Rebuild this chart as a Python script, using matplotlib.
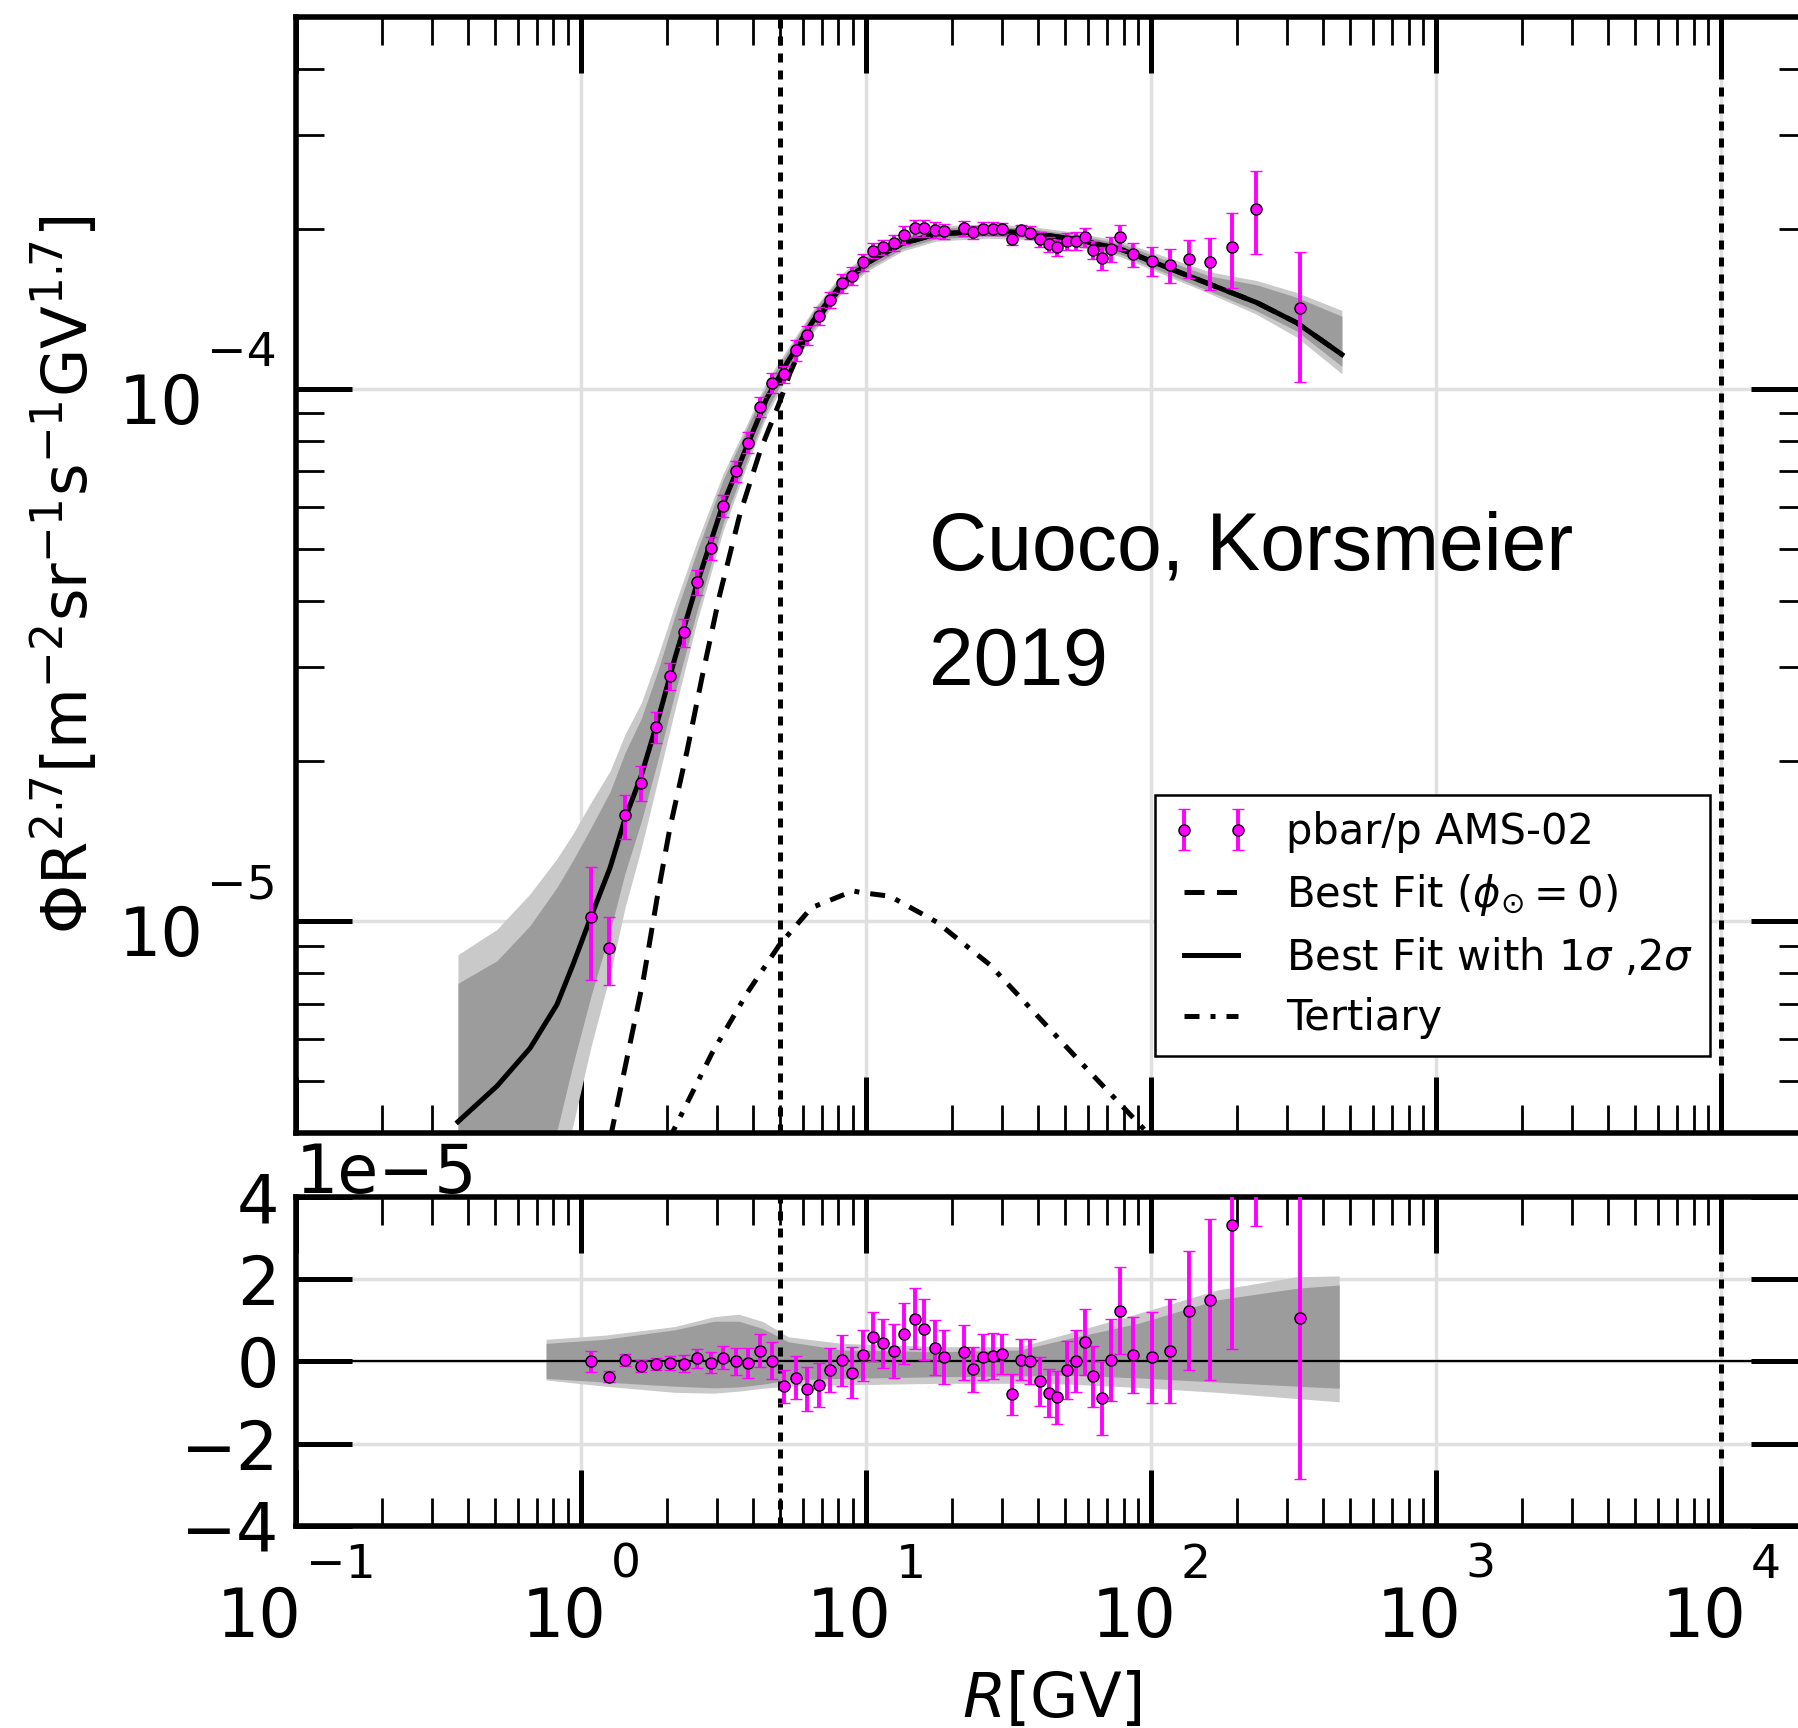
import matplotlib
matplotlib.use('Agg')
import matplotlib.pyplot as plt
import numpy as np
from matplotlib.ticker import LogLocator, NullFormatter, NullLocator, FixedLocator
from matplotlib.transforms import blended_transform_factory, offset_copy

# AMS-02 data points (rigidity in GV, flux*R^2.7, errors)
R_data = [1.08, 1.25, 1.43, 1.62, 1.83, 2.05, 2.29, 2.55, 2.85, 3.14, 3.49, 3.85,
          4.25, 4.68, 5.16, 5.67, 6.21, 6.81, 7.48, 8.24, 8.93, 9.75, 10.6, 11.5,
          12.5, 13.6, 14.8, 16.0, 17.4, 18.8, 22.0, 23.8, 25.8, 27.8, 30.1, 32.4,
          35.0, 37.6, 40.6, 43.8, 46.8, 50.7, 54.5, 58.5, 62.7, 67.4, 72.5, 78.0,
          86.7, 100.5, 116.6, 135.8, 160.3, 191.9, 232.8, 332.7]
flux_1e4 = [0.102, 0.089, 0.158, 0.182, 0.232, 0.289, 0.349, 0.434, 0.503, 0.604, 0.701, 0.793,
            0.925, 1.026, 1.066, 1.184, 1.263, 1.372, 1.47, 1.58, 1.63, 1.73, 1.82, 1.845,
            1.88, 1.95, 2.007, 2.007, 1.99, 1.977, 2.007, 1.972, 2.0, 2.0, 2.0, 1.91,
            1.986, 1.967, 1.91, 1.87, 1.845, 1.897, 1.897, 1.93, 1.827, 1.76, 1.83, 1.93,
            1.79, 1.74, 1.71, 1.758, 1.73, 1.846, 2.18, 1.42]
err_1e5 = [0.245, 0.13, 0.15, 0.135, 0.155, 0.17, 0.21, 0.23, 0.25, 0.28, 0.32, 0.36,
           0.40, 0.45, 0.40, 0.53, 0.53, 0.53, 0.53, 0.62, 0.62, 0.62, 0.60, 0.60,
           0.66, 0.74, 0.74, 0.74, 0.67, 0.66, 0.66, 0.55, 0.56, 0.56, 0.49, 0.49,
           0.50, 0.55, 0.60, 0.58, 0.64, 0.70, 0.75, 0.81, 0.74, 0.90, 1.0, 1.06,
           0.92, 1.1, 1.26, 1.45, 1.96, 3.0, 3.9, 3.9]
resid_1e5 = [0.0, -0.37, 0.04, -0.11, -0.06, -0.03, -0.05, 0.08, -0.03, 0.09, 0.0, -0.03,
             0.26, 0.02, -0.6, -0.39, -0.67, -0.57, -0.21, 0.03, -0.27, 0.15, 0.6, 0.44,
             0.26, 0.68, 1.04, 0.78, 0.33, 0.11, 0.22, -0.19, 0.11, 0.13, 0.19, -0.8,
             0.04, 0.0, -0.48, -0.77, -0.87, -0.20, 0.01, 0.47, -0.36, -0.89, 0.04, 1.24,
             0.16, 0.10, 0.26, 1.24, 1.5, 3.31, 7.2, 1.05]

# best fit model and its 1/2 sigma bands (relative, in %)
R_model = [0.37, 0.507, 0.662, 0.824, 0.938, 1.084, 1.264, 1.427, 1.625, 1.849, 2.138, 2.55,
           3.15, 3.82, 4.49, 5.28, 6.52, 8.2, 10.08, 13.37, 17.6, 26.8, 37.0, 53.7,
           77.8, 135.8, 161, 235, 324, 467]
model_1e4 = [0.042, 0.049, 0.0577, 0.0698, 0.083, 0.102, 0.126, 0.156, 0.1875, 0.236, 0.313, 0.430,
             0.608, 0.781, 0.962, 1.119, 1.343, 1.575, 1.725, 1.875, 1.955, 1.98, 1.965, 1.913,
             1.833, 1.63, 1.573, 1.453, 1.332, 1.161]
s2_hi = [106, 97, 95, 88, 76, 64, 52, 44, 37, 32, 26, 20, 14, 10, 8, 6, 5, 4.5, 4, 3.8, 3.5,
         3.2, 3, 3, 3.5, 5, 5.5, 10, 14, 21]
s1_hi = [82, 72, 70, 66, 57, 47, 39, 33, 28, 24, 20, 15, 11, 8, 6, 4.5, 4, 3.5, 3, 2.8, 2.5,
         2.2, 2, 2, 2.5, 3.3, 3.6, 8, 11.6, 18]
s1_lo = [-55, -50, -45, -42, -35, -29, -24, -21, -18, -16, -14, -11, -8, -6, -5, -4, -3.5, -3,
         -2.5, -2.2, -2, -2, -2, -2, -2.2, -2.8, -3, -3.5, -3.5, -5]
s2_lo = [-65, -62, -58, -56, -50, -43, -37, -32, -27, -23, -20, -15, -11, -8, -7, -6, -5, -4,
         -3.5, -3.2, -3, -3, -3, -3, -3.2, -3.8, -4, -5, -6, -8]

# best fit without solar modulation (low-R part; above 10 GV it sits under the best fit)
R_nomod = [1.27, 1.285, 1.65, 1.848, 2.05, 2.355, 2.66, 3.07, 3.61, 4.25, 4.99, 5.41, 6.01,
           6.8, 8.2]
nomod_1e4 = [0.039, 0.0406, 0.0771, 0.1104, 0.1496, 0.209, 0.288, 0.412, 0.582, 0.765, 0.949,
             1.072, 1.216, 1.36, 1.56]

# tertiary contribution
R_tert = [2.03, 2.87, 3.82, 4.96, 6.43, 9.0, 9.63, 12.14, 17.66, 27.2, 38.5, 59.3, 91.5, 108]
tert_1e5 = [0.388, 0.563, 0.732, 0.902, 1.06, 1.14, 1.132, 1.114, 0.997, 0.828, 0.678, 0.529,
            0.414, 0.376]

# residual panel bands (absolute, 1e-5)
R_rband = [0.754, 1.21, 2.13, 2.93, 3.58, 4.35, 5.33, 8.24, 18.3, 34.7, 51.5, 90.3, 171, 324, 457]
rb2_hi = [0.54, 0.64, 0.85, 1.09, 1.15, 0.97, 0.60, 0.44, 0.36, 0.36, 0.69, 1.17, 1.74, 2.06, 2.08]
rb1_hi = [0.44, 0.54, 0.77, 0.98, 0.98, 0.80, 0.48, 0.28, 0.24, 0.28, 0.56, 0.93, 1.50, 1.78, 1.86]
rb1_lo = [-0.41, -0.50, -0.60, -0.64, -0.62, -0.55, -0.45, -0.41, -0.37, -0.35, -0.33, -0.40, -0.50, -0.60, -0.65]
rb2_lo = [-0.45, -0.60, -0.75, -0.77, -0.72, -0.65, -0.60, -0.57, -0.53, -0.53, -0.55, -0.63, -0.75, -0.90, -0.98]

vlines_R = [5.0, 1.0e4]

plt.rcParams['font.family'] = ['DejaVu Sans']
plt.rcParams['mathtext.fontset'] = 'dejavusans'
plt.rcParams['axes.linewidth'] = 4

LIGHT = '#c9c9c9'
DARK = '#9c9c9c'
GRID = '#e0e0e0'
MAG = '#ff00ff'
dots = (0, (1.8, 1.6))
MINUS = '\u2212'

fig = plt.figure(figsize=(17.98, 17.28), dpi=100)
ax = fig.add_axes([0.16463, 0.34433, 0.84038, 0.64583])
axr = fig.add_axes([0.16463, 0.11690, 0.84038, 0.19039])

R_model = np.array(R_model)
model = np.array(model_1e4) * 1e-4
ax.fill_between(R_model, model * (1 + np.array(s2_lo) / 100), model * (1 + np.array(s2_hi) / 100),
                color=LIGHT, lw=0, zorder=1)
ax.fill_between(R_model, model * (1 + np.array(s1_lo) / 100), model * (1 + np.array(s1_hi) / 100),
                color=DARK, lw=0, zorder=2)

hi = R_model >= 10
R_nm = np.concatenate([R_nomod, R_model[hi]])
nm = np.concatenate([np.array(nomod_1e4) * 1e-4, model[hi]])
l_nomod, = ax.plot(R_nm, nm, color='k', lw=3.6, ls=(0, (4, 2.5)), zorder=3)
l_fit, = ax.plot(R_model, model, color='k', lw=3.6, zorder=4)
l_tert, = ax.plot(R_tert, np.array(tert_1e5) * 1e-5, color='k', lw=3.6,
                  ls=(0, (3, 2.2, 1, 2.2)), zorder=3)
for a in (ax, axr):
    for xv in vlines_R:
        a.axvline(xv, color='k', lw=3.6, ls=dots, zorder=3)

eb_kw = dict(fmt='o', color=MAG, mfc=MAG, mec='k', mew=1.0, ms=8, elinewidth=2.8,
             capsize=4.5, capthick=1.6, zorder=5)
h_data = ax.errorbar(R_data, np.array(flux_1e4) * 1e-4, yerr=np.array(err_1e5) * 1e-5, **eb_kw)

# residual panel
axr.fill_between(R_rband, np.array(rb2_lo) * 1e-5, np.array(rb2_hi) * 1e-5, color=LIGHT, lw=0, zorder=1)
axr.fill_between(R_rband, np.array(rb1_lo) * 1e-5, np.array(rb1_hi) * 1e-5, color=DARK, lw=0, zorder=2)
axr.axhline(0, color='k', lw=1.6, zorder=3)
axr.errorbar(R_data, np.array(resid_1e5) * 1e-5, yerr=np.array(err_1e5) * 1e-5, **eb_kw)

for a in (ax, axr):
    a.set_xscale('log')
    a.set_xlim(0.1, 2e4)
    a.xaxis.set_major_locator(LogLocator(base=10, numticks=20))
    a.xaxis.set_minor_locator(LogLocator(base=10, subs=np.arange(2, 10), numticks=100))
    a.xaxis.set_minor_formatter(NullFormatter())
    a.grid(True, which='major', color=GRID, lw=2.5, zorder=0)
    a.set_axisbelow(True)
    a.tick_params(which='major', direction='in', length=40, width=3.6, top=True, right=True,
                  labelsize=48)
    a.tick_params(which='minor', direction='in', length=20, width=2, top=True, right=True)
    a.tick_params(axis='y', which='major', pad=12)

ax.set_yscale('log')
ax.set_ylim(4e-6, 5e-4)
ax.yaxis.set_major_formatter(NullFormatter())
ax.yaxis.set_minor_formatter(NullFormatter())
ax.tick_params(labelbottom=False)
axr.xaxis.set_major_formatter(NullFormatter())

axr.set_ylim(-4e-5, 4e-5)
axr.yaxis.set_major_locator(FixedLocator([-4e-5, -2e-5, 0, 2e-5, 4e-5]))
axr.yaxis.set_minor_locator(NullLocator())
axr.yaxis.get_offset_text().set_fontsize(48)

# power-of-ten tick labels with a high-set exponent
renderer = fig.canvas.get_renderer()
gap = 4
tx = blended_transform_factory(axr.transData, axr.transAxes)
for e in range(-1, 5):
    s_exp = str(e).replace('-', MINUS)
    t10 = axr.text(10.0 ** e, 0, '10', fontsize=48, ha='right', va='baseline', transform=tx)
    te = axr.text(10.0 ** e, 0, s_exp, fontsize=34, ha='left', va='baseline', transform=tx)
    w10 = t10.get_window_extent(renderer).width
    we = te.get_window_extent(renderer).width
    xr10 = -(w10 + gap + we) / 2 + w10
    t10.set_transform(offset_copy(tx, fig=fig, x=xr10, y=-111, units='dots'))
    te.set_transform(offset_copy(tx, fig=fig, x=xr10 + gap, y=-52, units='dots'))

ty = blended_transform_factory(ax.transAxes, ax.transData)
for e in (-5, -4):
    s_exp = str(e).replace('-', MINUS)
    te = ax.text(0, 10.0 ** e, s_exp, fontsize=34, ha='right', va='baseline',
                 transform=offset_copy(ty, fig=fig, x=-19, y=23, units='dots'))
    we = te.get_window_extent(renderer).width
    ax.text(0, 10.0 ** e, '10', fontsize=48, ha='right', va='baseline',
            transform=offset_copy(ty, fig=fig, x=-19 - we - gap, y=-35, units='dots'))

ax.set_ylabel(r'$\mathdefault{\Phi R^{2.7} [m^{-2} sr^{-1} s^{-1} GV^{1.7}]}$', fontsize=45)
ax.yaxis.set_label_coords(-0.129, 0.5)
axr.set_xlabel(r'$R$[GV]', fontsize=45, va='top')
axr.xaxis.set_label_coords(0.5, -0.437)

leg = ax.legend([h_data, l_nomod, l_fit, l_tert],
                ['pbar/p AMS-02', r'Best Fit ($\phi_{\odot}=0$)',
                 r'Best Fit with 1$\sigma$ ,2$\sigma$', 'Tertiary'],
                loc='upper right', bbox_to_anchor=(0.9358, 0.3033), borderaxespad=0,
                fontsize=30, numpoints=2, fancybox=False, framealpha=1, edgecolor='k',
                handlelength=1.9, handletextpad=0.85, borderpad=0.4, labelspacing=0.45)
leg.get_frame().set_linewidth(1.8)

fig.text(929 / 1798, 1 - 570 / 1728, 'Cuoco, Korsmeier', fontsize=58,
         family='Liberation Sans', va='baseline', ha='left')
fig.text(929 / 1798, 1 - 685 / 1728, '2019', fontsize=58,
         family='Liberation Sans', va='baseline', ha='left')

fig.savefig('out.png', dpi=100)
